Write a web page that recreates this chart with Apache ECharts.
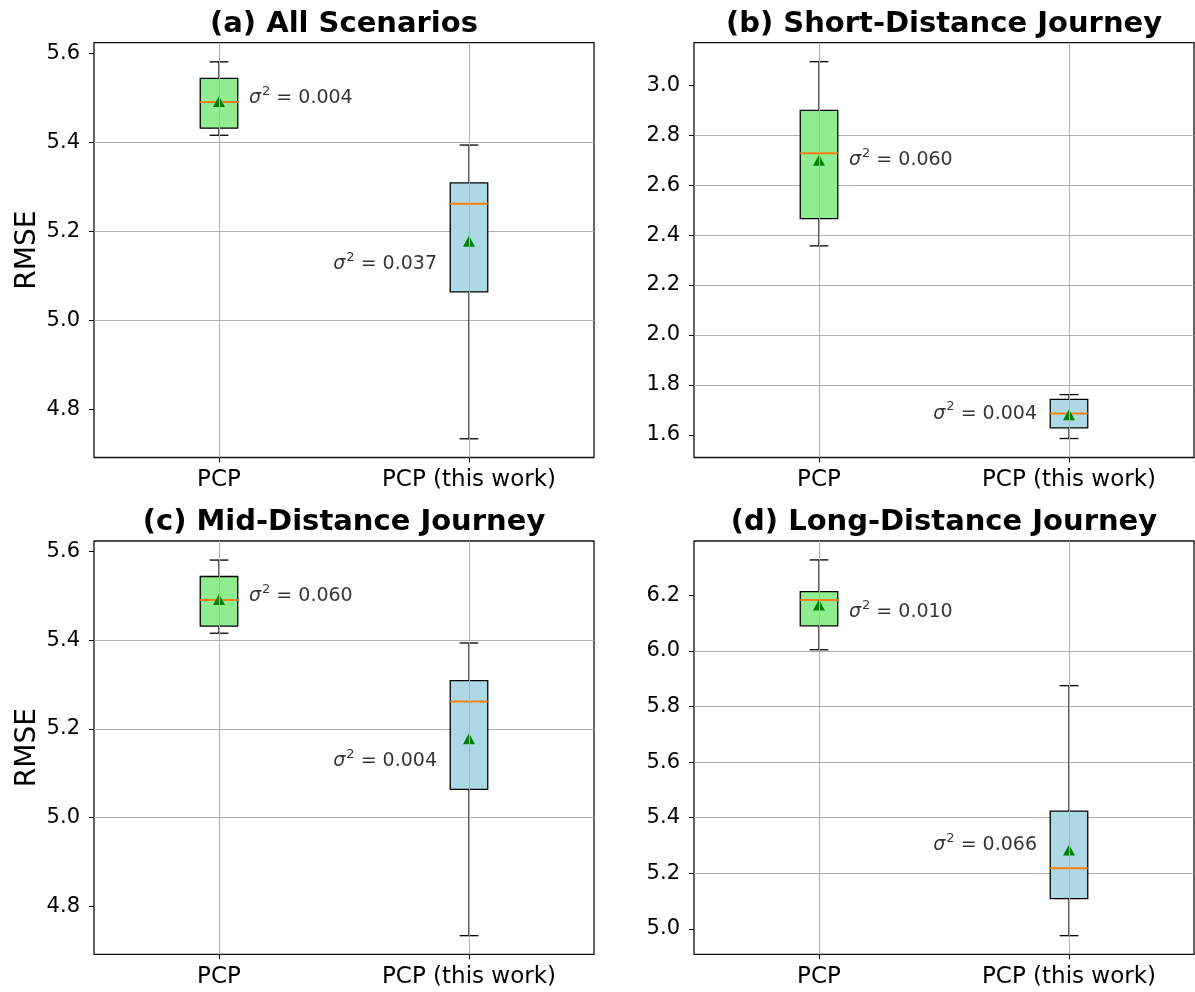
<!DOCTYPE html>
<html>
<head>
<meta charset="utf-8">
<title>RMSE boxplots</title>
<script src="https://cdn.jsdelivr.net/npm/echarts@6/dist/echarts.min.js"></script>
<style>
  html, body { margin: 0; padding: 0; background: #fff; }
  #chart { width: 1195px; height: 992px; }
</style>
</head>
<body>
<div id="chart"></div>
<script>
const categories = ["PCP", "PCP (this work)"];
const titles = [
  "(a) All Scenarios",
  "(b) Short-Distance Journey",
  "(c) Mid-Distance Journey",
  "(d) Long-Distance Journey",
];

// [min, q1, median, q3, max] for PCP and PCP (this work)
const statsA = [[5.416, 5.432, 5.491, 5.544, 5.581], [4.734, 5.064, 5.262, 5.309, 5.394]];
const statsB = [[2.357, 2.466, 2.728, 2.900, 3.095], [1.585, 1.628, 1.685, 1.742, 1.761]];
const statsC = [[5.416, 5.432, 5.491, 5.544, 5.581], [4.734, 5.064, 5.262, 5.309, 5.394]];
const statsD = [[6.004, 6.090, 6.183, 6.213, 6.327], [4.976, 5.109, 5.218, 5.424, 5.875]];

const meansA = [5.492, 5.178];
const meansB = [2.700, 1.680];
const meansC = [5.492, 5.178];
const meansD = [6.165, 5.284];

const varianceA = ["0.004", "0.037"];
const varianceB = ["0.060", "0.004"];
const varianceC = ["0.060", "0.004"];
const varianceD = ["0.010", "0.066"];

// y value where each variance note is anchored
const noteYA = [5.500, 5.127];
const noteYB = [2.700, 1.685];
const noteYC = [5.500, 5.127];
const noteYD = [6.140, 5.300];

const yRangeA = [4.692, 5.624];
const yRangeB = [1.509, 3.171];
const yRangeC = [4.692, 5.624];
const yRangeD = [4.909, 6.395];

const yTicksA = [4.8, 5.0, 5.2, 5.4, 5.6];
const yTicksB = [1.6, 1.8, 2.0, 2.2, 2.4, 2.6, 2.8, 3.0];
const yTicksC = [4.8, 5.0, 5.2, 5.4, 5.6];
const yTicksD = [5.0, 5.2, 5.4, 5.6, 5.8, 6.0, 6.2];

const boxColors = ["#90ee90", "#add8e6"];
const FONT = "DejaVu Sans";

const panels = [
  { grid: { left: 94, top: 42.7, width: 500, height: 414.8 }, titleTop: 24, stats: statsA, means: meansA, variance: varianceA, noteY: noteYA, range: yRangeA, ticks: yTicksA, yName: "RMSE" },
  { grid: { left: 694, top: 42.7, width: 500, height: 414.8 }, titleTop: 24, stats: statsB, means: meansB, variance: varianceB, noteY: noteYB, range: yRangeB, ticks: yTicksB, yName: "" },
  { grid: { left: 94, top: 541, width: 500, height: 413.3 }, titleTop: 522, stats: statsC, means: meansC, variance: varianceC, noteY: noteYC, range: yRangeC, ticks: yTicksC, yName: "RMSE" },
  { grid: { left: 694, top: 541, width: 500, height: 413.3 }, titleTop: 522, stats: statsD, means: meansD, variance: varianceD, noteY: noteYD, range: yRangeD, ticks: yTicksD, yName: "" },
];

function renderBox(params, api) {
  const idx = api.value(0);
  const band = api.size([1, 0])[0];
  const half = (band * 0.15) / 2;
  const cap = half / 2;
  const x = api.coord([idx, api.value(1)])[0];
  const yMin = api.coord([idx, api.value(1)])[1];
  const yQ1 = api.coord([idx, api.value(2)])[1];
  const yMed = api.coord([idx, api.value(3)])[1];
  const yQ3 = api.coord([idx, api.value(4)])[1];
  const yMax = api.coord([idx, api.value(5)])[1];
  const line = (x1, y1, x2, y2, stroke, lineWidth) => ({
    type: "line",
    shape: { x1, y1, x2, y2 },
    style: { stroke, lineWidth },
  });
  return {
    type: "group",
    children: [
      line(x, yMin, x, yQ1, "#000", 1.3),
      line(x, yQ3, x, yMax, "#000", 1.3),
      line(x - cap, yMin, x + cap, yMin, "#000", 1.3),
      line(x - cap, yMax, x + cap, yMax, "#000", 1.3),
      {
        type: "rect",
        shape: { x: x - half, y: yQ3, width: half * 2, height: yQ1 - yQ3 },
        style: { fill: boxColors[idx], stroke: "#000", lineWidth: 1.3 },
      },
      line(x - half, yMed, x + half, yMed, "#ff7f0e", 2),
    ],
  };
}

const noteRich = {
  s: { fontFamily: FONT, fontStyle: "italic", fontSize: 19, lineHeight: 26, color: "#000" },
  p: { fontFamily: FONT, fontSize: 13, lineHeight: 13, verticalAlign: "top", color: "#000", padding: [0, 0, 0, 1] },
  t: { fontFamily: FONT, fontSize: 19, lineHeight: 26, color: "#000" },
};

const option = {
  animation: false,
  textStyle: { fontFamily: FONT },
  title: panels.map((p, i) => ({
    text: titles[i],
    left: p.grid.left + p.grid.width / 2,
    top: p.titleTop,
    textAlign: "center",
    textVerticalAlign: "middle",
    padding: 0,
    textStyle: { fontFamily: FONT, fontSize: 29, fontWeight: "bold", color: "#000" },
  })),
  grid: panels.map((p) => ({
    ...p.grid,
    show: true,
    borderColor: "#111",
    borderWidth: 1.3,
    containLabel: false,
  })),
  xAxis: panels.map((p, i) => ({
    type: "category",
    gridIndex: i,
    data: categories,
    boundaryGap: true,
    axisLine: { show: false },
    axisTick: { show: true, alignWithLabel: true, length: 5, lineStyle: { color: "#000" } },
    axisLabel: { margin: 11, fontSize: 23, color: "#000", fontFamily: FONT },
    splitLine: { show: false },
  })),
  yAxis: panels.map((p, i) => ({
    type: "value",
    gridIndex: i,
    min: p.range[0],
    max: p.range[1],
    minInterval: 0.2,
    maxInterval: 0.2,
    splitNumber: 8,
    axisLine: { show: false },
    axisTick: { show: true, length: 5, customValues: p.ticks, lineStyle: { color: "#000" } },
    axisLabel: {
      customValues: p.ticks,
      margin: 14,
      fontSize: 21,
      color: "#000",
      fontFamily: FONT,
      formatter: (v) => v.toFixed(1),
    },
    splitLine: { show: true, showMinLine: false, showMaxLine: false, lineStyle: { color: "#b0b0b0", width: 1 } },
    name: p.yName,
    nameLocation: "middle",
    nameGap: 52,
    nameTextStyle: { fontSize: 28, color: "#000", fontFamily: FONT },
  })),
  series: panels.flatMap((p, i) => [
    {
      type: "scatter",
      xAxisIndex: i,
      yAxisIndex: i,
      z: 1,
      symbolSize: 0,
      silent: true,
      data: p.noteY.map((y, k) => ({
        value: [k, y],
        label: { position: k === 0 ? "right" : "left", distance: k === 0 ? 30 : 32 },
      })),
      label: {
        show: true,
        color: "#000",
        formatter: (d) => `{s|σ}{p|2}{t| = ${p.variance[d.dataIndex]}}`,
        rich: noteRich,
      },
      markLine: {
        silent: true,
        symbol: ["none", "none"],
        label: { show: false },
        lineStyle: { color: "#b0b0b0", width: 1, type: "solid" },
        data: categories.map((c) => ({ xAxis: c })),
      },
    },
    {
      type: "custom",
      xAxisIndex: i,
      yAxisIndex: i,
      z: 2,
      renderItem: renderBox,
      encode: { x: 0, y: [1, 2, 3, 4, 5] },
      data: p.stats.map((s, k) => [k, ...s]),
    },
    {
      type: "scatter",
      xAxisIndex: i,
      yAxisIndex: i,
      z: 3,
      symbol: "triangle",
      symbolSize: [12, 11],
      itemStyle: { color: "#008000", opacity: 1 },
      data: p.means.map((m, k) => [k, m]),
    },
  ]),
};

const chart = echarts.init(document.getElementById("chart"), null, { renderer: "canvas" });
chart.setOption(option);
</script>
</body>
</html>
